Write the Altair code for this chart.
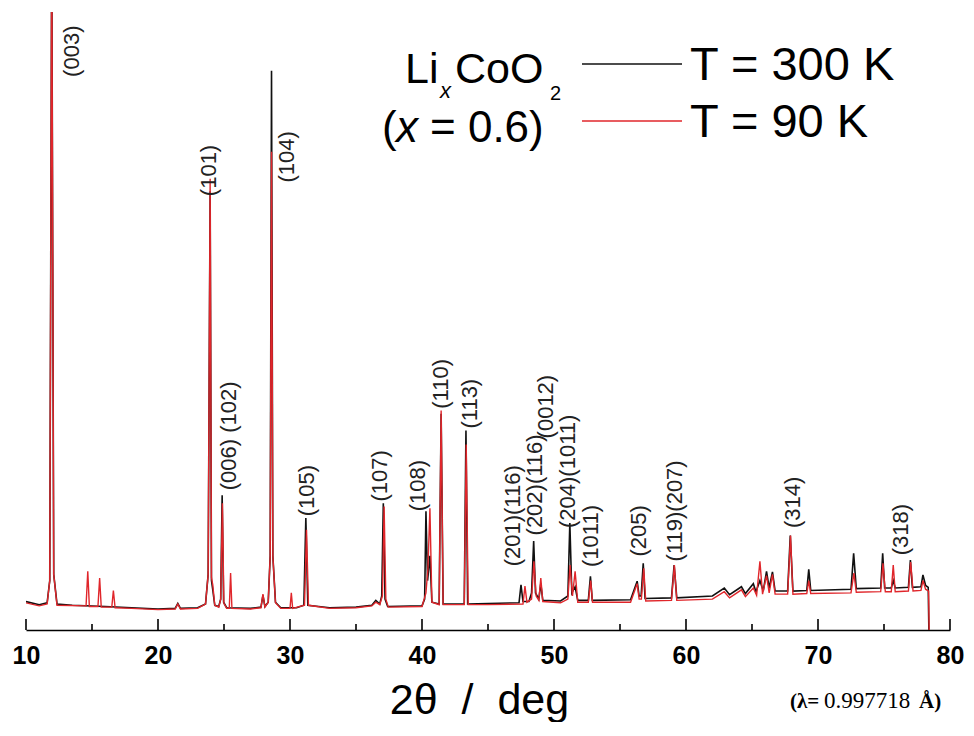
import altair as alt
import pandas as pd

# ---- data (2theta in deg, intensity in % of plot height) ----
trace_300K = [
    (10.0, 4.6), (11.0, 4.1), (11.6, 4.4), (11.8, 8), (11.95, 112), (12.1, 9), (12.35, 4.2),
    (13.5, 4.0), (16.0, 3.8), (18.0, 3.6), (20.0, 3.4), (21.3, 3.5), (21.5, 4.3), (21.7, 3.5),
    (23.0, 3.6), (23.6, 4.2), (23.8, 9), (23.95, 71), (24.05, 8), (24.15, 6.5), (24.3, 4.0),
    (24.6, 3.8), (24.75, 5), (24.86, 21.8), (24.97, 4.5), (25.2, 3.6), (27.0, 3.5), (27.8, 3.7),
    (27.95, 5.6), (28.1, 3.8), (28.35, 4.5), (28.5, 12), (28.6, 90.5), (28.7, 12), (28.9, 4.5),
    (29.3, 3.6), (30.5, 3.6), (31.05, 4), (31.2, 18.1), (31.35, 4), (33.0, 3.6), (35.0, 3.7),
    (36.2, 4.0), (36.5, 4.8), (36.8, 4.2), (36.95, 5.5), (37.07, 20.5), (37.2, 5), (37.4, 3.8),
    (40.0, 3.9), (40.2, 5), (40.3, 19.2), (40.42, 8), (40.6, 12), (40.75, 4.5), (41.3, 4.2),
    (41.45, 35.0), (41.6, 4.2), (43.2, 4.2), (43.33, 32.3), (43.46, 4.2), (45.0, 4.3),
    (47.35, 4.4), (47.5, 7.3), (47.65, 4.6), (48.1, 4.6), (48.3, 6), (48.46, 14.4), (48.6, 6),
    (48.85, 5), (49.0, 7.5), (49.15, 4.8), (50.5, 4.7), (51.05, 5.5), (51.2, 17.3), (51.35, 6),
    (51.6, 7.0), (51.8, 4.8), (52.6, 4.8), (52.76, 8.7), (52.9, 4.8), (55.8, 4.9), (56.3, 7.9),
    (56.45, 5.5), (56.6, 5.5), (56.76, 10.8), (56.9, 5.1), (58.9, 5.2), (59.1, 10.5), (59.3, 5.2),
    (62.0, 5.5), (62.9, 6.8), (63.3, 5.7), (64.2, 7.0), (64.5, 5.9), (65.1, 7.5), (65.3, 6.2),
    (65.6, 8.0), (65.85, 6.3), (66.1, 9.5), (66.3, 6.8), (66.55, 9.4), (66.75, 6.3), (67.7, 6.3),
    (67.9, 15.3), (68.1, 6.3), (69.15, 6.4), (69.3, 9.8), (69.45, 6.4), (72.5, 6.6), (72.7, 12.4),
    (72.9, 6.7), (74.75, 6.8), (74.9, 12.4), (75.05, 6.8), (75.55, 6.8), (75.7, 8.0), (75.85, 6.8),
    (76.85, 6.9), (77.0, 11.3), (77.15, 6.9), (77.8, 7.0), (77.95, 8.9), (78.15, 7.2), (78.35, 6.9),
    (78.4, 0),
]

trace_90K = [
    (10.0, 4.4), (11.0, 3.9), (11.6, 4.2), (11.8, 8), (11.95, 112), (12.1, 9), (12.35, 4.0),
    (14.55, 3.9), (14.68, 9.5), (14.8, 3.8), (15.45, 3.8), (15.58, 8.4), (15.7, 3.7), (16.5, 3.7),
    (16.62, 6.4), (16.75, 3.6), (18.0, 3.5), (20.0, 3.3), (21.3, 3.4), (21.5, 4.2), (21.7, 3.4),
    (23.0, 3.5), (23.6, 4.2), (23.8, 9), (23.95, 73), (24.05, 8.5), (24.15, 7.3), (24.3, 4.0),
    (24.6, 3.7), (24.75, 5), (24.88, 20.5), (24.99, 4.3), (25.2, 3.5), (25.4, 3.5), (25.5, 9.2),
    (25.6, 3.5), (27.0, 3.4), (27.8, 3.6), (27.95, 5.8), (28.1, 3.7), (28.35, 4.5), (28.5, 12),
    (28.6, 77.4), (28.7, 12), (28.9, 4.4), (29.3, 3.5), (30.0, 3.5), (30.1, 6.0), (30.2, 3.5),
    (31.1, 4), (31.25, 16.2), (31.4, 4), (33.0, 3.5), (35.0, 3.6), (36.2, 3.9), (36.5, 4.5),
    (36.8, 4.1), (37.0, 5.5), (37.13, 20.0), (37.26, 5), (37.45, 3.7), (40.0, 3.8), (40.3, 6),
    (40.45, 10), (40.6, 19.7), (40.75, 4.5), (41.3, 4.1), (41.45, 35.5), (41.6, 4.1), (43.2, 4.1),
    (43.35, 30), (43.5, 4.1), (45.0, 4.1), (47.65, 4.2), (47.8, 7.1), (47.95, 4.5), (48.3, 5),
    (48.48, 11.1), (48.65, 5.5), (48.85, 4.8), (49.0, 8.4), (49.15, 4.6), (50.5, 4.4), (51.05, 5),
    (51.22, 10.5), (51.4, 5.5), (51.6, 9.5), (51.8, 4.5), (52.6, 4.5), (52.78, 8.0), (52.92, 4.5),
    (55.8, 4.5), (56.3, 7.5), (56.45, 5), (56.62, 5), (56.8, 10.0), (56.95, 4.7), (58.9, 4.8),
    (59.12, 10.5), (59.3, 4.8), (62.0, 5.0), (62.9, 6.2), (63.3, 5.2), (64.2, 6.5), (64.5, 5.4),
    (65.1, 6.8), (65.35, 5.6), (65.6, 11.1), (65.8, 5.8), (66.1, 8.8), (66.3, 6.0), (66.55, 9.0),
    (66.75, 5.8), (67.7, 5.8), (67.92, 15.3), (68.1, 5.8), (69.15, 5.9), (69.3, 8.0), (69.45, 5.9),
    (72.5, 6.0), (72.72, 9.2), (72.9, 6.1), (74.75, 6.2), (74.92, 10.8), (75.1, 6.2), (75.55, 6.2),
    (75.7, 10.5), (75.85, 6.2), (76.85, 6.3), (77.02, 11.0), (77.2, 6.3), (77.8, 6.4), (77.95, 8.0),
    (78.15, 6.6), (78.38, 6.3), (78.42, 0),
]

hkl_labels = ["(003)", "(101)", "(006) (102)", "(104)", "(105)", "(107)", "(108)", "(110)",
              "(113)", "(201)(116)", "(202)(116)", "(0012)", "(204)(1011)", "(1011)",
              "(205)", "(119)(207)", "(314)", "(318)"]
hkl_tt = [13.47, 23.9, 25.38, 29.8, 31.27, 36.85, 39.71, 41.45, 43.63, 46.88, 48.54, 49.37,
          51.03, 52.84, 56.46, 59.17, 68.14, 76.29]
hkl_I = [89.5, 70.2, 22.6, 72.4, 18.4, 20.8, 19.2, 35.8, 32.6, 10.3, 15.3, 31.0, 16.5, 10.2,
         11.9, 11.1, 16.5, 12.1]

x_tick_values = [10, 20, 30, 40, 50, 60, 70, 80]
x_minor_ticks = [15, 25, 35, 45, 55, 65, 75]

# ---- tables ----
df300 = pd.DataFrame(trace_300K, columns=["t", "I"])
df90 = pd.DataFrame(trace_90K, columns=["t", "I"])
dflab = pd.DataFrame({"lab": hkl_labels, "t": hkl_tt, "I": hkl_I})
dfmaj = pd.DataFrame({"t": x_tick_values})
dfmin = pd.DataFrame({"t": x_minor_ticks})
one = pd.DataFrame({"a": [0]})

W, H = 924, 618
BLACK = "#111111"
RED = "#e0262b"
FONT = "Liberation Sans"
SERIF = "Liberation Serif"

xscale = alt.Scale(domain=[10, 80], nice=False, zero=False)
yscale = alt.Scale(domain=[0, 100], nice=False, zero=False)

xaxis = alt.Axis(
    values=x_tick_values, ticks=False, grid=False, domainColor="black", domainWidth=1.6,
    labelFont=FONT, labelFontSize=25, labelFontWeight="bold", labelColor="black",
    labelPadding=13, labelFlush=False, labelOverlap=False, labelBound=False,
    title="2\u03b8\u00a0\u00a0/\u00a0\u00a0deg", titleFont=FONT, titleFontSize=43,
    titleFontWeight="normal", titleColor="black", titleX=453, titleY=83,
    titleAlign="center", titleBaseline="alphabetic",
)
X = alt.X("t:Q", scale=xscale, axis=xaxis)
Y = alt.Y("I:Q", scale=yscale, axis=None)

black_line = alt.Chart(df300).mark_line(color=BLACK, strokeWidth=1.6, clip=True).encode(x=X, y=Y)
red_line = alt.Chart(df90).mark_line(color=RED, strokeWidth=1.4, clip=True).encode(x=X, y=Y)

major = alt.Chart(dfmaj).mark_rule(color="black", strokeWidth=1.6).encode(
    x=X, y=alt.value(H), y2=alt.value(H - 11))
minor = alt.Chart(dfmin).mark_rule(color="black", strokeWidth=1.6).encode(
    x=X, y=alt.value(H), y2=alt.value(H - 6))

labels = alt.Chart(dflab).mark_text(
    angle=270, align="left", baseline="middle", font=FONT, fontSize=22, color="#222222"
).encode(x=X, y=Y, text="lab:N")


def txt(s, x, y, size, style="normal", weight="normal", font=FONT, align="left"):
    return alt.Chart(one).mark_text(
        text=s, font=font, fontSize=size, fontStyle=style, fontWeight=weight,
        color="black", align=align, baseline="alphabetic",
    ).encode(x=alt.value(x), y=alt.value(y))


legend = [
    txt("Li", 379, 71, 43),
    txt("x", 414, 86, 22, style="italic"),
    txt("CoO", 429, 71, 43),
    txt("2", 524, 88, 20),
    txt("(", 356, 130, 44),
    txt("x", 370, 130, 44, style="italic"),
    txt("= 0.6)", 404, 130, 44),
    txt("T = 300 K", 664, 68, 47),
    txt("T = 90 K", 664, 125, 47),
    txt("(\u03bb=", 764, 696, 21, weight="bold", font=SERIF),
    txt("0.997718", 798, 696, 23, font=SERIF),
    txt("\u00c5)", 893, 696, 21, weight="bold", font=SERIF),
]
leg_black = alt.Chart(one).mark_rule(color=BLACK, strokeWidth=1.4).encode(
    x=alt.value(556), x2=alt.value(656), y=alt.value(52))
leg_red = alt.Chart(one).mark_rule(color=RED, strokeWidth=1.4).encode(
    x=alt.value(556), x2=alt.value(656), y=alt.value(109))

chart = alt.layer(
    black_line, red_line, major, minor, labels, leg_black, leg_red, *legend
).properties(
    width=W, height=H,
    autosize=alt.AutoSizeParams(type="none"),
    padding={"left": 18, "top": 4, "right": 16, "bottom": 92},
).configure_view(stroke=None)

chart.save("out.html", embed_options={"renderer": "svg", "actions": False})
